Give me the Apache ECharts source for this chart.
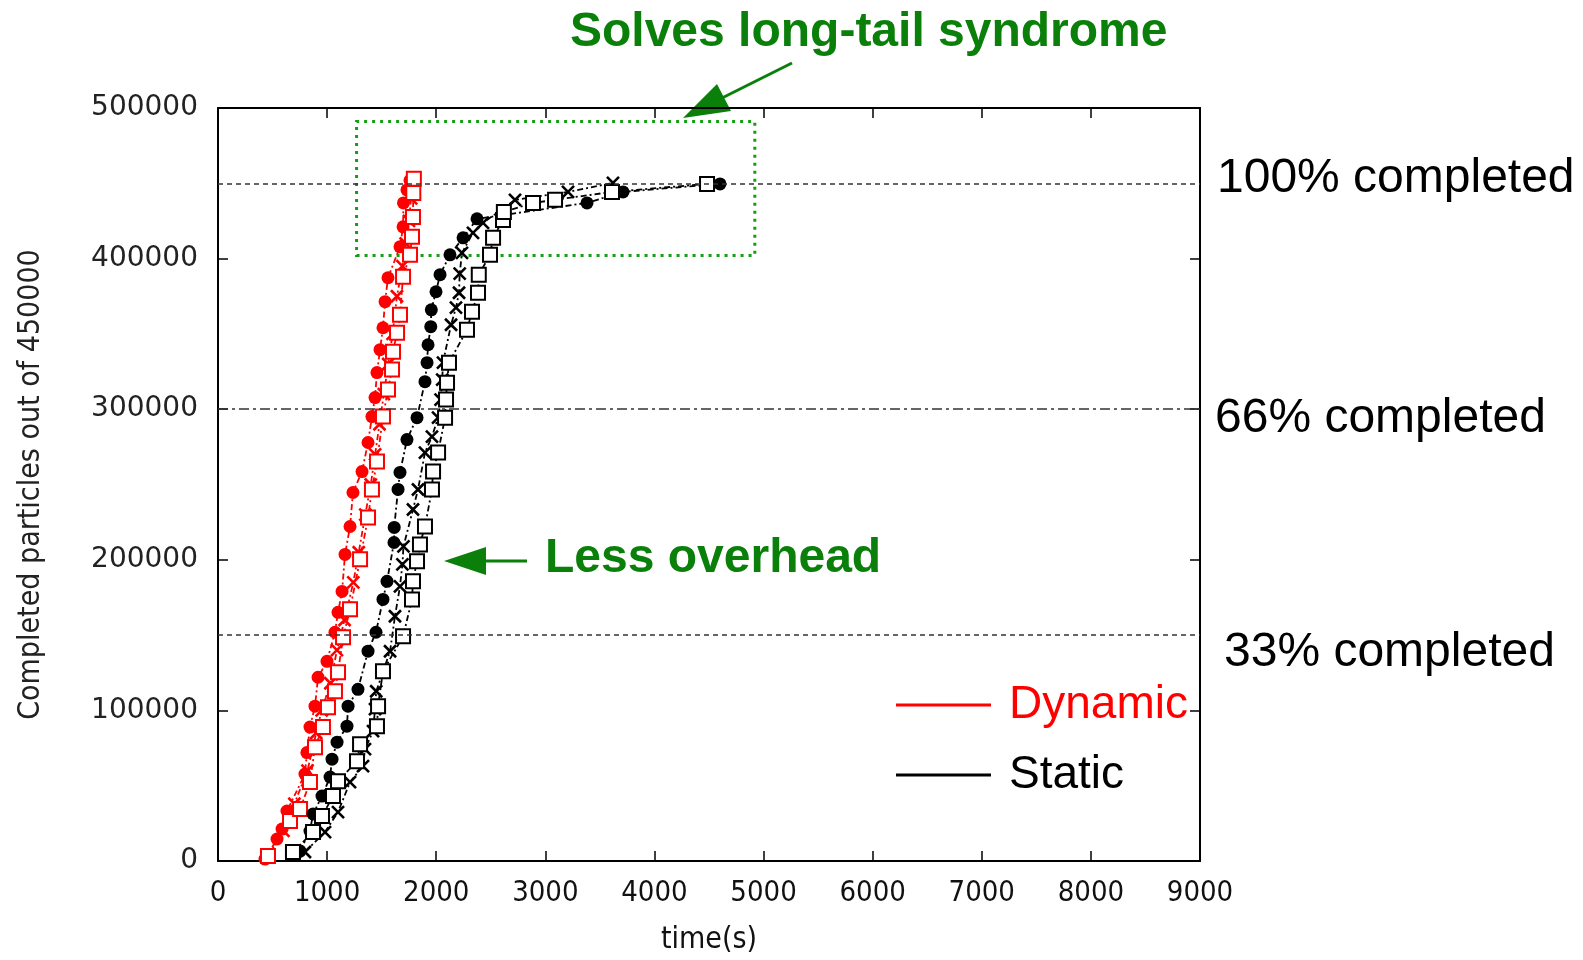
<!DOCTYPE html>
<html>
<head>
<meta charset="utf-8">
<script src="https://cdn.jsdelivr.net/npm/echarts@6/dist/echarts.min.js"></script>
<style>
  html, body { margin: 0; padding: 0; background: #fff; }
  #chart { width: 1583px; height: 960px; }
</style>
</head>
<body>
<div id="chart"></div>
<script>
// axis ticks
const xTicks = [0, 1000, 2000, 3000, 4000, 5000, 6000, 7000, 8000, 9000];
const yTicks = [0, 100000, 200000, 300000, 400000, 500000];

// completion levels drawn as reference lines
const levels = [450000, 300000, 150000];
const levelLabels = ["100% completed", "66% completed", "33% completed"];

// [time (s), completed particles]
const dynamicCircle = [
  [431, 1300], [541, 14600], [587, 21200], [632, 33200], [797, 57700], [815, 72000],
  [843, 88900], [889, 102800], [917, 122000], [999, 132600], [1072, 151900], [1100, 165100],
  [1137, 179000], [1164, 203600], [1210, 222100], [1237, 244700], [1320, 258600], [1375, 277900],
  [1411, 295100], [1439, 307700], [1457, 324300], [1485, 339500], [1512, 354100], [1531, 371400],
  [1558, 387300], [1668, 407800], [1696, 421100], [1700, 437000], [1732, 445600], [1760, 452000],
];
const dynamicSquare = [
  [458, 3300], [660, 26500], [752, 34500], [843, 52400], [889, 75600], [962, 88900],
  [1008, 102100], [1072, 112700], [1100, 125300], [1146, 148500], [1210, 167100], [1302, 200300],
  [1375, 228100], [1411, 246700], [1457, 265300], [1512, 295100], [1558, 313000], [1595, 326300],
  [1604, 338200], [1641, 350800], [1668, 362700], [1696, 388000], [1760, 402500], [1778, 414500],
  [1787, 427700], [1790, 443600], [1795, 453000],
];
const dynamicCross = [
  [450, 2500], [600, 20000], [700, 38000], [820, 60000], [900, 85000], [950, 100000],
  [1030, 118000], [1090, 140000], [1160, 160000], [1240, 185000], [1290, 205000], [1350, 230000],
  [1400, 250000], [1440, 270000], [1480, 290000], [1520, 310000], [1560, 330000], [1600, 350000],
  [1640, 375000], [1690, 395000], [1720, 410000], [1750, 425000], [1770, 440000], [1780, 450000],
];
const staticCircle = [
  [752, 6600], [843, 19900], [871, 31200], [953, 43100], [1027, 55700], [1045, 67600],
  [1091, 78900], [1182, 89500], [1192, 102800], [1283, 114000], [1375, 139300], [1448, 151900],
  [1512, 173700], [1549, 185700], [1613, 211500], [1615, 221500], [1650, 246700], [1668, 258000],
  [1732, 279800], [1824, 294400], [1897, 318300], [1916, 330900], [1925, 342800], [1950, 354800],
  [1955, 366000], [1998, 378000], [2035, 389300], [2126, 402500], [2246, 413800], [2374, 426400],
  [3382, 437000], [3712, 444300], [4601, 449600],
];
const staticSquare = [
  [687, 6000], [871, 19200], [953, 29800], [1054, 43100], [1100, 53000], [1274, 66300],
  [1302, 77600], [1457, 89500], [1467, 102800], [1512, 126000], [1696, 149200], [1778, 173700],
  [1787, 185700], [1824, 199000], [1851, 210200], [1897, 222100], [1961, 246700], [1971, 258600],
  [2017, 271200], [2081, 294400], [2090, 306400], [2099, 317600], [2117, 330900], [2282, 352800],
  [2328, 364700], [2383, 377300], [2390, 389300], [2493, 402500], [2521, 413800], [2612, 425700],
  [2620, 431000], [2887, 437000], [3089, 439000], [3611, 444300], [4482, 449600],
];
const staticCross = [
  [797, 6000], [981, 19200], [1100, 32500], [1210, 52400], [1329, 63000], [1347, 74300],
  [1421, 86200], [1439, 100800], [1450, 112700], [1577, 139300], [1622, 162500], [1668, 182400],
  [1690, 197000], [1700, 208900], [1787, 233400], [1833, 246700], [1897, 271200], [1961, 281800],
  [2017, 294400], [2040, 306400], [2055, 319600], [2062, 330900], [2136, 356100], [2181, 367400],
  [2209, 377300], [2215, 390000], [2236, 403800], [2337, 417100], [2429, 423700], [2722, 439000],
  [3208, 444300], [3620, 450300],
];

// highlighted tail region: [x0, y0, x1, y1]
const tailBox = [1270, 402000, 4920, 491000];

const COLORS = {
  red: "#ff0000",
  black: "#000000",
  ref: "#333333",
  green: "#0a800a",
  greenDot: "#12a012",
};
const SANS = "'Liberation Sans', Arial, sans-serif";
const NARROW = "'Liberation Sans Narrow', 'DejaVu Sans Condensed', 'Liberation Sans', sans-serif";
const CROSS = "path://M0,0L10,10M10,0L0,10";
const DASH_DOT = [6, 3, 2, 3];

function curve(name, data, color, symbol, size) {
  const hollow = symbol !== "circle";
  return {
    name,
    type: "line",
    data,
    symbol,
    symbolSize: size,
    showAllSymbol: true,
    lineStyle: { color, width: 1.8, type: DASH_DOT },
    itemStyle: { color, borderColor: color, borderWidth: hollow ? 2.6 : 0 },
    emphasis: { disabled: true },
    z: 3,
  };
}

const chart = echarts.init(document.getElementById("chart"));

const refSeries = {
  name: "ref",
  type: "line",
  data: [],
  silent: true,
  z: 1,
  markLine: {
    silent: true,
    symbol: "none",
    animation: false,
    label: { show: false },
    data: [
      { yAxis: levels[0], lineStyle: { color: COLORS.ref, width: 1.5, type: [5, 4] } },
      { yAxis: levels[1], lineStyle: { color: COLORS.ref, width: 1.5, type: [10, 4, 3, 4] } },
      { yAxis: levels[2], lineStyle: { color: COLORS.ref, width: 1.5, type: [5, 4] } },
    ],
  },
  markArea: {
    silent: true,
    itemStyle: {
      color: "rgba(0,0,0,0)",
      borderColor: COLORS.greenDot,
      borderWidth: 3,
      borderType: [3, 5],
    },
    data: [[{ coord: [tailBox[0], tailBox[1]] }, { coord: [tailBox[2], tailBox[3]] }]],
  },
};

const axisLine = { show: true, onZero: false, lineStyle: { color: "#000", width: 2 } };
const axisTick = { show: true, inside: true, length: 10, lineStyle: { color: "#000", width: 1.5 } };
const plain = (v) => String(v);

chart.setOption({
  animation: false,
  backgroundColor: "#fff",
  grid: { left: 218, right: 383, top: 108, bottom: 98 },
  legend: {
    orient: "vertical",
    left: 891,
    top: 677,
    itemWidth: 95,
    itemHeight: 3,
    itemGap: 24,
    icon: "rect",
    selectedMode: false,
    textStyle: { fontFamily: SANS, fontSize: 46, lineHeight: 46, padding: [0, 0, 0, 13] },
    data: [
      { name: "Dynamic", textStyle: { color: COLORS.red } },
      { name: "Static", textStyle: { color: COLORS.black } },
    ],
  },
  xAxis: [
    {
      type: "value",
      min: xTicks[0],
      max: xTicks[xTicks.length - 1],
      interval: 1000,
      name: "time(s)",
      nameLocation: "middle",
      nameGap: 64,
      nameTextStyle: { fontFamily: NARROW, fontSize: 30, color: "#111" },
      axisLine,
      axisTick,
      splitLine: { show: false },
      axisLabel: { margin: 18, fontFamily: NARROW, fontSize: 29, color: "#111", formatter: plain },
    },
    {
      type: "value",
      position: "top",
      min: xTicks[0],
      max: xTicks[xTicks.length - 1],
      interval: 1000,
      axisLine,
      axisTick,
      splitLine: { show: false },
      axisLabel: { show: false },
    },
  ],
  yAxis: [
    {
      type: "value",
      min: yTicks[0],
      max: yTicks[yTicks.length - 1],
      interval: 100000,
      name: "Completed particles out of 450000",
      nameLocation: "middle",
      nameGap: 172,
      nameTextStyle: { fontFamily: NARROW, fontSize: 30, color: "#222" },
      axisLine,
      axisTick,
      splitLine: { show: false },
      axisLabel: {
        margin: 20,
        fontFamily: "'DejaVu Sans', sans-serif",
        fontSize: 28,
        color: "#222",
        formatter: plain,
      },
    },
    {
      type: "value",
      position: "right",
      min: yTicks[0],
      max: yTicks[yTicks.length - 1],
      interval: 100000,
      axisLine,
      axisTick,
      splitLine: { show: false },
      axisLabel: { show: false },
    },
  ],
  series: [
    refSeries,
    curve("Dynamic", dynamicCircle, COLORS.red, "circle", 13),
    curve("Dynamic (x)", dynamicCross, COLORS.red, CROSS, 12),
    curve("Dynamic (sq)", dynamicSquare, COLORS.red, "emptyRect", 14),
    curve("Static", staticCircle, COLORS.black, "circle", 13),
    curve("Static (x)", staticCross, COLORS.black, CROSS, 12),
    curve("Static (sq)", staticSquare, COLORS.black, "emptyRect", 14),
  ],
});

// level labels sit just right of the plot, nudged off their lines
const plotRight = chart.convertToPixel({ xAxisIndex: 0 }, xTicks[xTicks.length - 1]);
const labelShift = [[17, -5], [15, 10], [24, 18]];
const levelText = levels.map((v, i) => ({
  type: "text",
  x: plotRight + labelShift[i][0],
  y: chart.convertToPixel({ yAxisIndex: 0 }, v) + labelShift[i][1],
  style: {
    text: levelLabels[i],
    fill: "#000",
    font: "48px " + SANS,
    verticalAlign: "middle",
  },
}));

chart.setOption({
  graphic: [
    ...levelText,
    {
      type: "text",
      left: 570,
      top: 9,
      style: { text: "Solves long-tail syndrome", fill: COLORS.green, font: "bold 48px " + SANS },
    },
    {
      type: "text",
      left: 545,
      top: 535,
      style: { text: "Less overhead", fill: COLORS.green, font: "bold 48px " + SANS },
    },
    // arrow to the tail box
    {
      type: "line",
      shape: { x1: 792, y1: 63, x2: 722, y2: 98 },
      style: { stroke: COLORS.green, lineWidth: 3 },
    },
    {
      type: "polygon",
      shape: { points: [[683, 118], [731, 111], [717, 84]] },
      style: { fill: COLORS.green },
    },
    // arrow to the curves
    {
      type: "line",
      shape: { x1: 527, y1: 561, x2: 484, y2: 561 },
      style: { stroke: COLORS.green, lineWidth: 3 },
    },
    {
      type: "polygon",
      shape: { points: [[444, 561], [486, 547], [486, 575]] },
      style: { fill: COLORS.green },
    },
  ],
});
</script>
</body>
</html>
